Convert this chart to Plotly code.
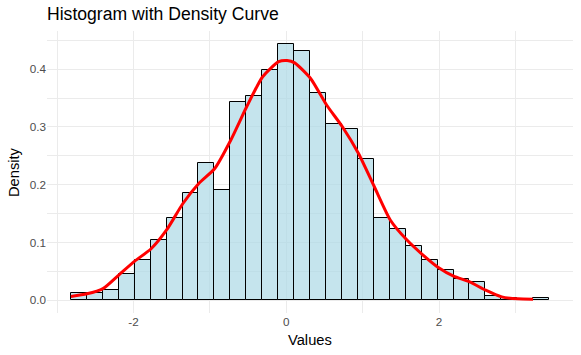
import plotly.graph_objects as go

# ---- data ----
bin_start = -2.82
bin_width = 0.2087
bar_density = [0.0118, 0.0127, 0.0178, 0.0462, 0.0704, 0.105, 0.143, 0.186, 0.238, 0.190,
               0.344, 0.354, 0.398, 0.444, 0.431, 0.358, 0.305, 0.296, 0.244, 0.143,
               0.124, 0.0947, 0.0704, 0.052, 0.0375, 0.0323, 0.0075, 0.0035, 0.0, 0.0035]

curve_x = [-2.82, -2.61, -2.40, -2.19, -1.98, -1.77, -1.565, -1.356, -1.146, -0.937,
           -0.728, -0.519, -0.31, -0.10, 0.01, 0.109, 0.318, 0.527, 0.736, 0.945,
           1.154, 1.363, 1.573, 1.782, 1.99, 2.19, 2.40, 2.61, 2.82, 3.03, 3.23]
curve_y = [0.0065, 0.011, 0.020, 0.044, 0.068, 0.089, 0.122, 0.167, 0.202, 0.228,
           0.277, 0.335, 0.387, 0.413, 0.415, 0.411, 0.384, 0.338, 0.300, 0.254,
           0.196, 0.1385, 0.105, 0.079, 0.0566, 0.0416, 0.0317, 0.0173, 0.0058, 0.0023, 0.0017]

x_ticks = [-2, 0, 2]
x_tick_labels = ["-2", "0", "2"]
y_ticks = [0.0, 0.1, 0.2, 0.3, 0.4]
y_tick_labels = ["0.0", "0.1", "0.2", "0.3", "0.4"]

centers = [bin_start + bin_width * (i + 0.5) for i in range(len(bar_density))]

fig = go.Figure()
fig.add_trace(go.Bar(
    x=centers, y=bar_density, width=bin_width,
    marker=dict(color="rgba(173,216,230,0.7)", line=dict(color="black", width=1)),
    showlegend=False, hoverinfo="skip"))
fig.add_trace(go.Scatter(
    x=curve_x, y=curve_y, mode="lines",
    line=dict(color="red", width=3, shape="spline", smoothing=0.6),
    showlegend=False))

grid = "#EBEBEB"
font = "Liberation Sans, Arial, sans-serif"
fig.update_layout(
    width=581, height=355, autosize=False,
    margin=dict(l=46.5, r=8, t=31, b=42, autoexpand=False),
    paper_bgcolor="white", plot_bgcolor="white",
    bargap=0,
    font=dict(family=font, color="black"),
    title=dict(text="Histogram with Density Curve", x=0, xref="paper", xanchor="left",
               y=1 - 13.5 / 355, yref="container", yanchor="middle",
               font=dict(size=17.6, color="black", family=font)),
    xaxis=dict(range=[-3.133, 3.753], tickvals=x_ticks, ticktext=x_tick_labels,
               showgrid=True, gridcolor=grid, gridwidth=1, zeroline=False, automargin=False,
               showline=False, ticks="", tickfont=dict(size=11.7, color="#4D4D4D"),
               minor=dict(tickvals=[-3, -1, 1, 3], showgrid=True, gridcolor=grid, gridwidth=1)),
    yaxis=dict(range=[-0.0222, 0.4662], tickvals=y_ticks, ticktext=y_tick_labels,
               showgrid=True, gridcolor=grid, gridwidth=1, zeroline=False, automargin=False,
               showline=False, ticks="", tickfont=dict(size=11.7, color="#4D4D4D"),
               minor=dict(tickvals=[0.05, 0.15, 0.25, 0.35, 0.45], showgrid=True, gridcolor=grid, gridwidth=1)),
    annotations=[
        dict(text="Values", xref="paper", yref="paper", x=0.5, y=-(340 - 313) / 282,
             xanchor="center", yanchor="middle", showarrow=False,
             font=dict(size=14.7, color="black", family=font)),
        dict(text="Density", xref="paper", yref="paper", x=-(46.5 - 13.5) / 526.5, y=0.5,
             xanchor="center", yanchor="middle", showarrow=False, textangle=-90,
             font=dict(size=14.7, color="black", family=font)),
    ],
)
fig.write_html("out.html", config={"displayModeBar": False},
               post_script="document.body.style.margin='0';")
